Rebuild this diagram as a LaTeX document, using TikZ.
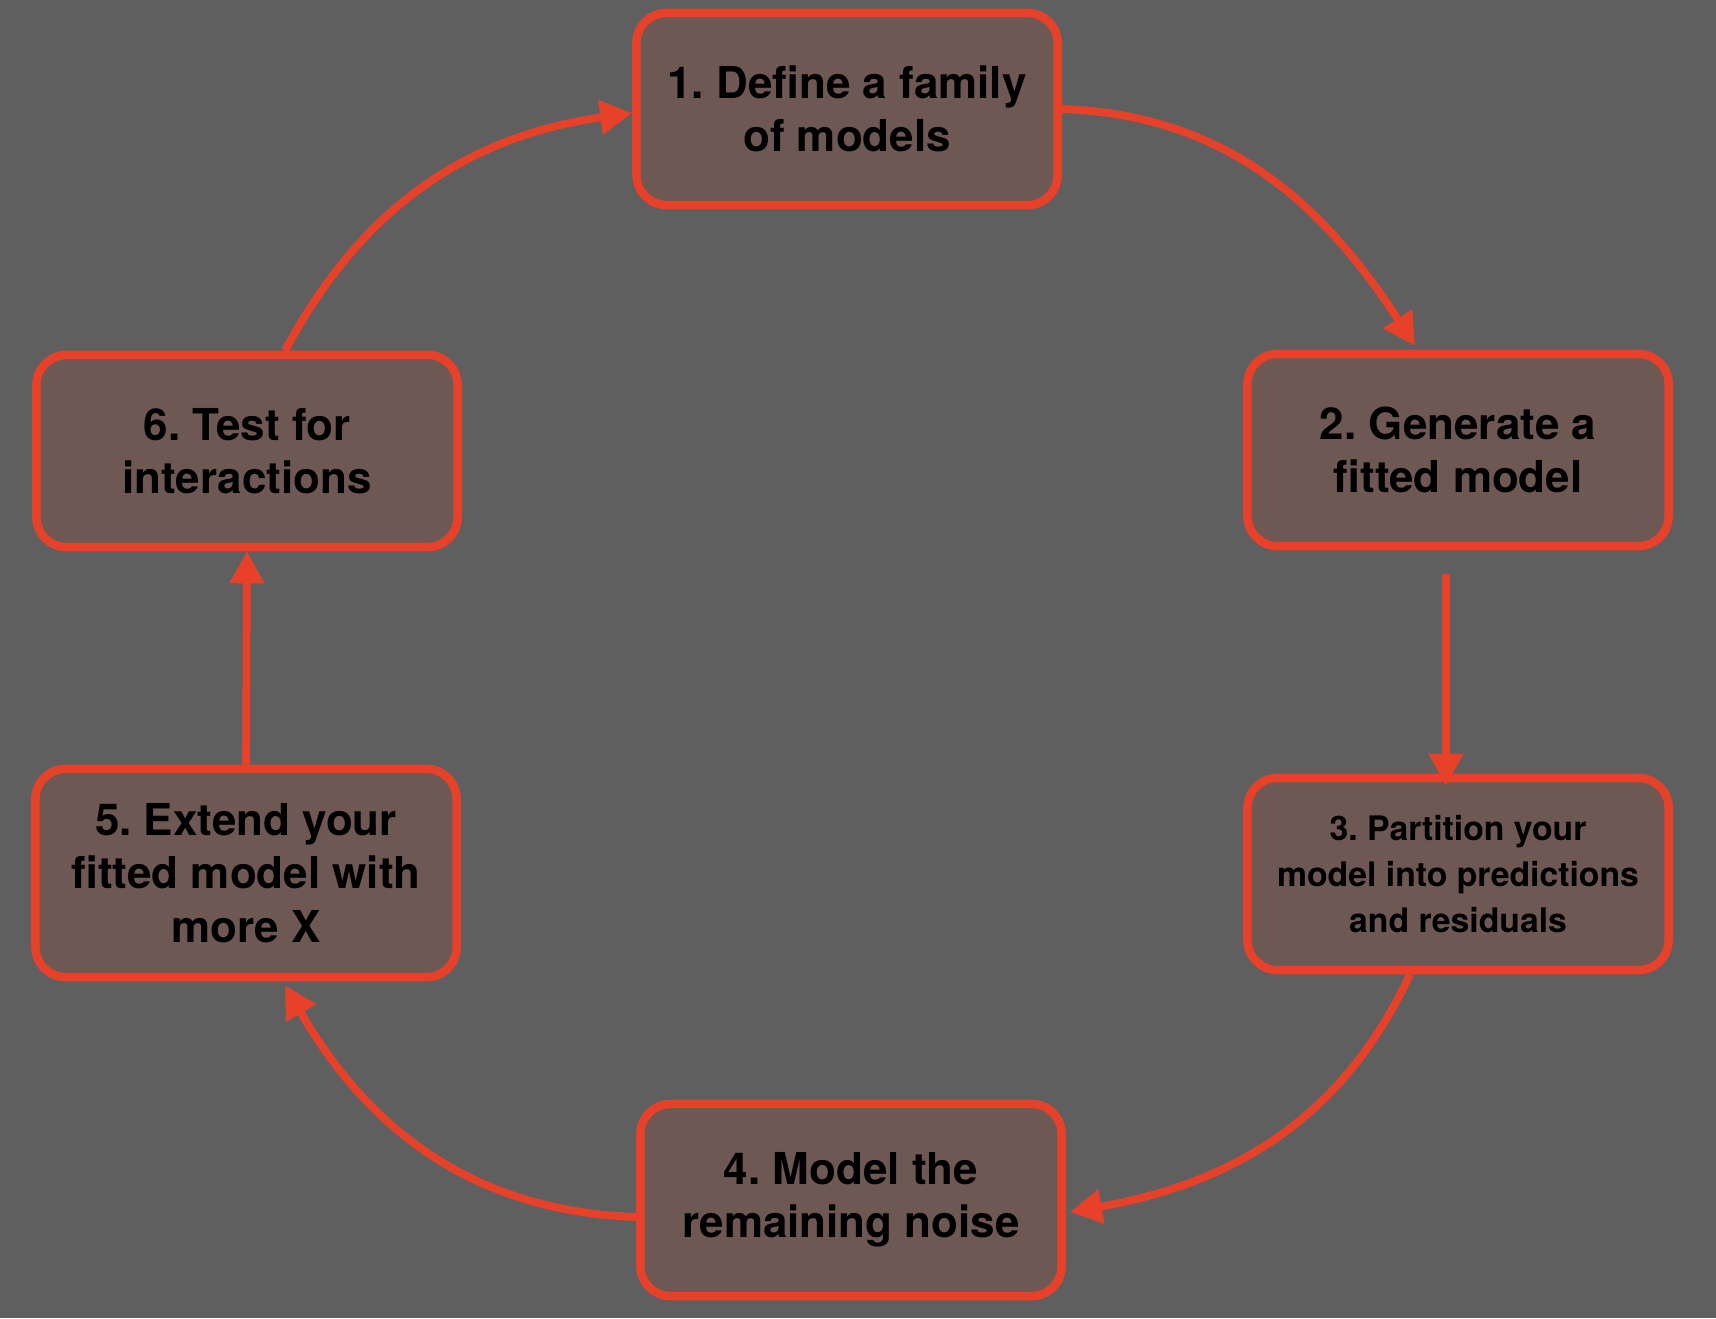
\documentclass[tikz,border=0pt]{standalone}
\usepackage{fontspec}
\setmainfont{TeX Gyre Heros}
\usetikzlibrary{arrows.meta,positioning}

\definecolor{bggray}{HTML}{5F5F5F}
\definecolor{boxbrown}{HTML}{6E5853}
\definecolor{cyclered}{HTML}{E8412A}

\begin{document}
\frenchspacing
\begin{tikzpicture}[x=0.01cm,y=0.01cm,>={Triangle[length=0.32cm,width=0.33cm]}]

    \tikzstyle{stage}=[draw=cyclered,fill=boxbrown,line width=2.4pt,
        rounded corners=0.3cm,minimum width=4.21cm,minimum height=1.92cm,
        align=center,text=black,font=\bfseries\fontsize{12.5}{15.2}\selectfont]
    \tikzstyle{link}=[color=cyclered,line width=2.2pt]

    \fill[bggray] (0,0) rectangle (1716,1318);

    \node[stage]  (s_1) at (847,1209)  {1. Define a family\\of models};
    \node[stage]  (s_2) at (1458,868)  {2. Generate a\\fitted model};
    \node[stage,font=\bfseries\fontsize{9.6}{13}\selectfont]
                  (s_3) at (1458,444)  {3. Partition your\\model into predictions\\and residuals};
    \node[stage]  (s_4) at (851,118)   {4. Model the\\remaining noise};
    \node[stage,minimum height=2.08cm]
                  (s_5) at (246,445)   {5. Extend your\\fitted model with\\more X};
    \node[stage]  (s_6) at (247,867)   {6. Test for\\interactions};

    \path[->,link]
    (s_1.east)                          edge [out=-2,in=123]  ([xshift=-0.43cm,yshift=0.04cm]s_2.north)
    ([xshift=-0.12cm,yshift=-0.24cm]s_2.south) edge   ([xshift=-0.12cm,yshift=-0.12cm]s_3.north)
    ([xshift=-0.48cm]s_3.south)         edge [out=-115,in=10] ([xshift=0.04cm,yshift=-0.12cm]s_4.east)
    ([yshift=-0.17cm]s_4.west)          edge [out=178,in=-60] ([xshift=0.39cm,yshift=-0.04cm]s_5.south)
    (s_5.north)                         edge                  (s_6.south)
    ([xshift=0.38cm]s_6.north)          edge [out=62,in=188]  ([yshift=-0.04cm]s_1.west);
  \end{tikzpicture}
\end{document}
